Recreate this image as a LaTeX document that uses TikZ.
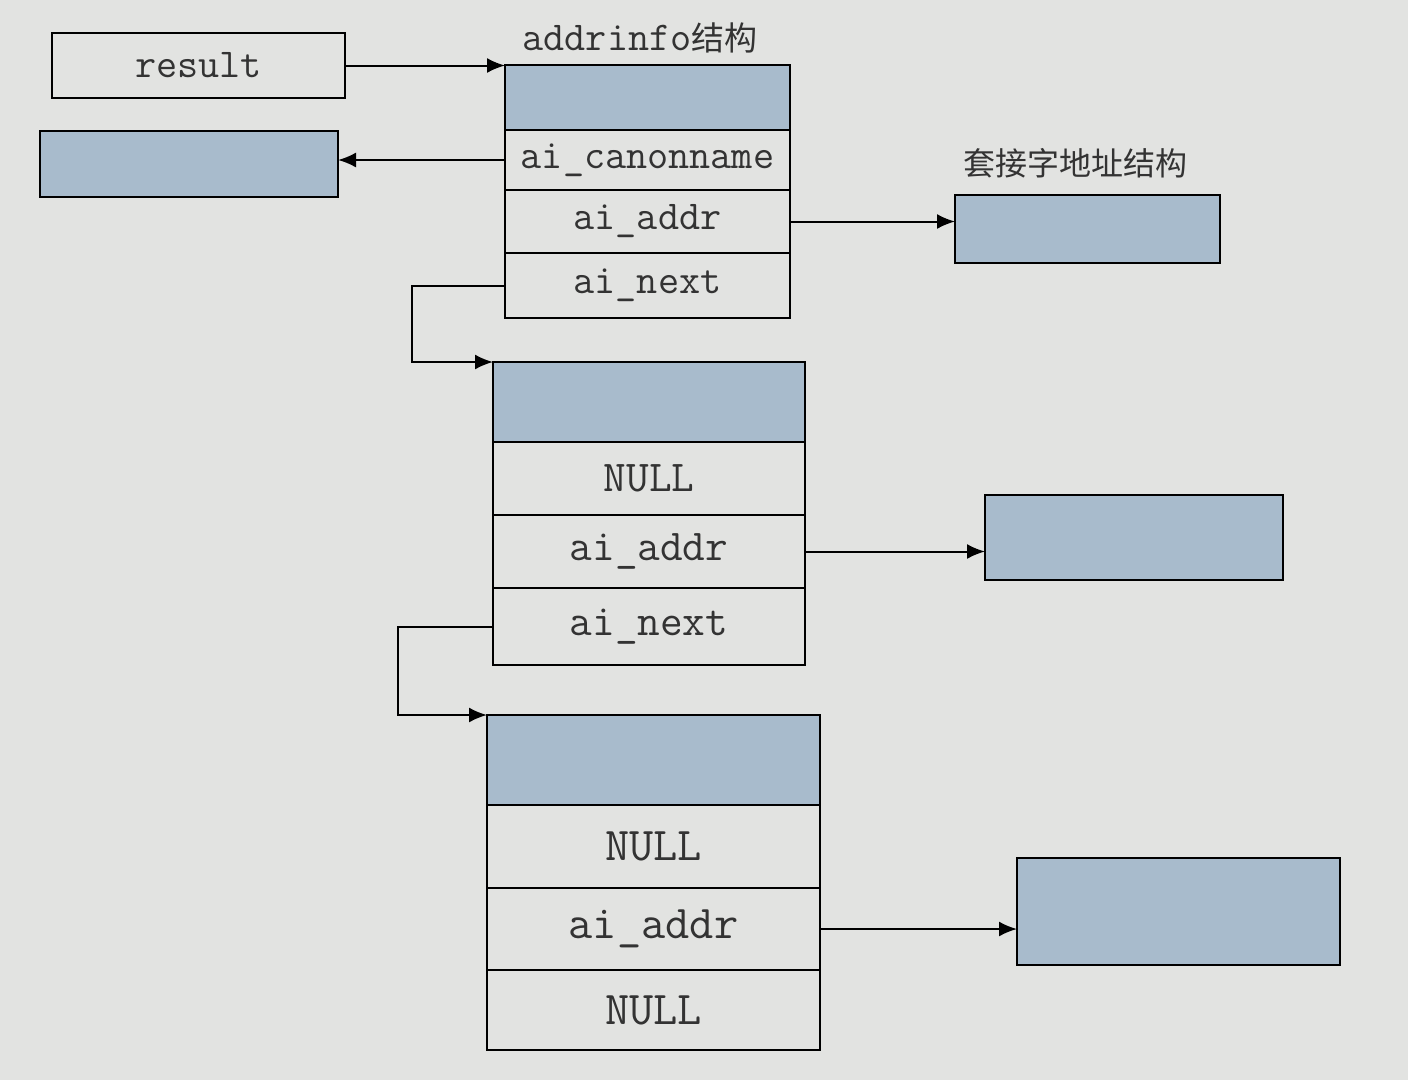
\documentclass[tikz,border=0pt]{standalone}
\usepackage{fontspec}
\newfontfamily\cjk{Noto Sans CJK SC}
\usetikzlibrary{positioning,arrows.meta}
\definecolor{paper}{RGB}{226,227,225}
\definecolor{cellblue}{RGB}{168,187,204}
\begin{document}
\begin{tikzpicture}[x=1pt,y=-1pt,>={Latex[length=18pt,width=15pt]},line width=2pt,
  every node/.style={text=black!80,font=\ttfamily\fontsize{41}{41}\selectfont},
  cell/.style={draw,inner sep=0pt,outer sep=0pt},
  node distance=0pt]
\useasboundingbox (0,0) rectangle (1408,1080);
\fill[paper] (0,0) rectangle (1408,1080);
% left boxes
\node[cell,minimum width=293,minimum height=65] (res) at (198.5,65.5) {result};
\node[cell,fill=cellblue,minimum width=298,minimum height=66] (name) at (189,164) {};
% first addrinfo
\node (lab1) at (640,38) {addrinfo{\cjk\fontsize{33}{33}\selectfont 结构}};
\node[cell,fill=cellblue,minimum width=285,minimum height=65] (h1) at (647.5,97.5) {};
\node[cell,minimum width=285,minimum height=60,below=of h1] (cn1) {ai\_canonname};
\node[cell,minimum width=285,minimum height=63,below=of cn1] (aa1) {ai\_addr};
\node[cell,minimum width=285,minimum height=65,below=of aa1] (nx1) {ai\_next};
% second addrinfo
\begin{scope}[every node/.append style={font=\ttfamily\fontsize{44}{44}\selectfont}]
\node[cell,fill=cellblue,minimum width=312,minimum height=80] (h2) at (649,402) {};
\node[cell,minimum width=312,minimum height=73,below=of h2] (cn2) {NULL};
\node[cell,minimum width=312,minimum height=73,below=of cn2] (aa2) {ai\_addr};
\node[cell,minimum width=312,minimum height=77,below=of aa2] (nx2) {ai\_next};
\end{scope}
% third addrinfo
\begin{scope}[every node/.append style={font=\ttfamily\fontsize{47}{47}\selectfont}]
\node[cell,fill=cellblue,minimum width=333,minimum height=90] (h3) at (653.5,760) {};
\node[cell,minimum width=333,minimum height=83,below=of h3] (cn3) {NULL};
\node[cell,minimum width=333,minimum height=82,below=of cn3] (aa3) {ai\_addr};
\node[cell,minimum width=333,minimum height=80,below=of aa3] (nx3) {NULL};
\end{scope}
% socket address structures
\node (lab2) at (1075,163) {\cjk\fontsize{32}{32}\selectfont 套接字地址结构};
\node[cell,fill=cellblue,minimum width=265,minimum height=68] (sa1) at (1087.5,229) {};
\node[cell,fill=cellblue,minimum width=298,minimum height=85] (sa2) at (1134,537.5) {};
\node[cell,fill=cellblue,minimum width=323,minimum height=107] (sa3) at (1178.5,911.5) {};
% pointers
\draw[->] (res.east) -- (res.east -| h1.west);
\draw[->] (cn1.west) -- (cn1.west -| name.east);
\draw[->] (aa1.east) -- (aa1.east -| sa1.west);
\draw[->] (aa2.east) -- (aa2.east -| sa2.west);
\draw[->] (aa3.east) -- (aa3.east -| sa3.west);
\draw[->] (nx1.west) -- ++(-93,0) |- (h2.north west);
\draw[->] (nx2.west) -- ++(-95,0) |- (h3.north west);
\end{tikzpicture}
\end{document}
